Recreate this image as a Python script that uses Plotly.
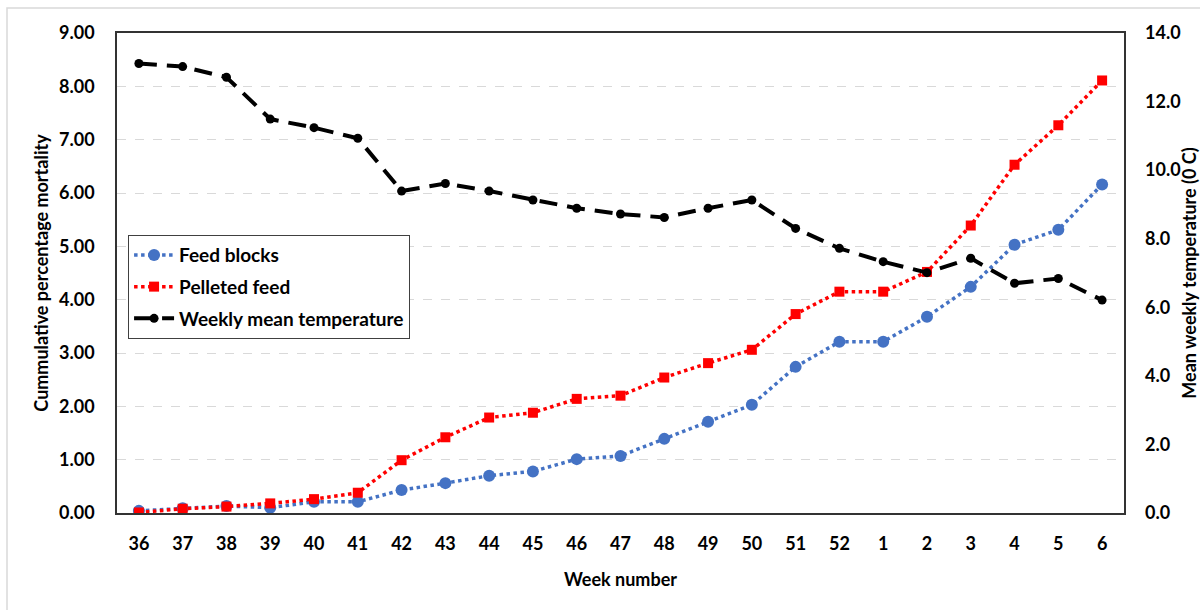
import plotly.graph_objects as go

weeks = ["36", "37", "38", "39", "40", "41", "42", "43", "44", "45", "46", "47",
         "48", "49", "50", "51", "52", "1", "2", "3", "4", "5", "6"]
feed_blocks = [0.04, 0.09, 0.13, 0.10, 0.21, 0.21, 0.43, 0.56, 0.70, 0.78, 1.01, 1.07,
               1.39, 1.71, 2.03, 2.74, 3.21, 3.21, 3.68, 4.24, 5.03, 5.31, 6.16]
pelleted_feed = [0.01, 0.08, 0.12, 0.18, 0.26, 0.38, 0.99, 1.42, 1.79, 1.88, 2.14, 2.20,
                 2.54, 2.81, 3.06, 3.73, 4.15, 4.15, 4.52, 5.39, 6.53, 7.27, 8.11]
temperature = [13.11, 13.02, 12.71, 11.49, 11.24, 10.93, 9.39, 9.61, 9.39, 9.13, 8.89, 8.72,
               8.62, 8.89, 9.13, 8.30, 7.72, 7.33, 7.01, 7.43, 6.70, 6.84, 6.21]
left_ticks = [0, 1, 2, 3, 4, 5, 6, 7, 8, 9]
right_ticks = [0, 2, 4, 6, 8, 10, 12, 14]

FONT = "Lato"

fig = go.Figure()
fig.add_trace(go.Scatter(
    x=weeks, y=feed_blocks, name="Feed blocks", mode="lines+markers",
    legendgroup="a",
    line=dict(color="#4472C4", width=3.5, dash="dot"),
    marker=dict(symbol="circle", size=12, color="#4472C4"),
))
fig.add_trace(go.Scatter(
    x=weeks, y=pelleted_feed, name="Pelleted feed", mode="lines+markers",
    legendgroup="b",
    line=dict(color="#FF0000", width=3.5, dash="dot"),
    marker=dict(symbol="square", size=10, color="#FF0000"),
))
fig.add_trace(go.Scatter(
    x=weeks, y=temperature, name="Weekly mean temperature", mode="lines+markers",
    legendgroup="c",
    line=dict(color="#000000", width=4, dash="18px,10px"),
    marker=dict(symbol="circle", size=9, color="#000000"),
    yaxis="y2",
))

fig.update_layout(
    width=1200, height=610,
    margin=dict(l=117, r=76, t=33, b=97, autoexpand=False),
    paper_bgcolor="white", plot_bgcolor="white",
    font=dict(family=FONT, size=16, color="#000000"),
    showlegend=True,
    legend=dict(
        x=0.011, y=0.579, xanchor="left", yanchor="top",
        bordercolor="#404040", borderwidth=1, bgcolor="white",
        font=dict(family=FONT, size=19, color="#000000", weight="bold"),
        itemwidth=40, tracegroupgap=4,
    ),
    xaxis=dict(
        type="category", categoryorder="array", categoryarray=weeks,
        range=[-0.5, len(weeks) - 0.5], autorange=False,
        showgrid=False, showline=True, linecolor="#333333", linewidth=1.5,
        mirror=True, ticks="", ticklabelstandoff=14, automargin=False,
        tickfont=dict(family=FONT, size=18, color="#000000", weight="bold"),
        title=dict(text="Week number", standoff=20,
                   font=dict(family=FONT, size=18, color="#000000", weight="bold")),
        zeroline=False,
    ),
    yaxis=dict(
        range=[0, 9], tickvals=left_ticks, tickformat=".2f",
        showgrid=True, gridcolor="#D9D9D9", gridwidth=1.2, griddash="dash",
        showline=True, linecolor="#333333", linewidth=1.5, mirror=True,
        ticks="", ticklabelstandoff=17, automargin=False,
        tickfont=dict(family=FONT, size=18, color="#000000", weight="bold"),
        title=dict(text="Cummulative percentage mortality", standoff=6,
                   font=dict(family=FONT, size=18, color="#000000", weight="bold")),
        zeroline=False,
    ),
    yaxis2=dict(
        range=[0, 14], tickvals=right_ticks, tickformat=".1f",
        overlaying="y", side="right", showgrid=False, showline=False,
        ticks="", ticklabelstandoff=20, automargin=False,
        tickfont=dict(family=FONT, size=18, color="#000000", weight="bold"),
        title=dict(text="Mean weekly temperature (0 C)", standoff=26,
                   font=dict(family=FONT, size=18, color="#000000", weight="bold")),
        zeroline=False,
    ),
)

# light outer frame (left and top edges visible in the reference)
fig.add_shape(type="rect", xref="paper", yref="paper",
              x0=(7 - 117) / 1007, x1=1.2, y0=-0.5, y1=(513 - 8) / 480,
              line=dict(color="#D9D9D9", width=1.5), fillcolor="rgba(0,0,0,0)",
              layer="below")

fig.write_html("out.html", config={"displayModeBar": False},
               post_script="document.body.style.margin='0';")
